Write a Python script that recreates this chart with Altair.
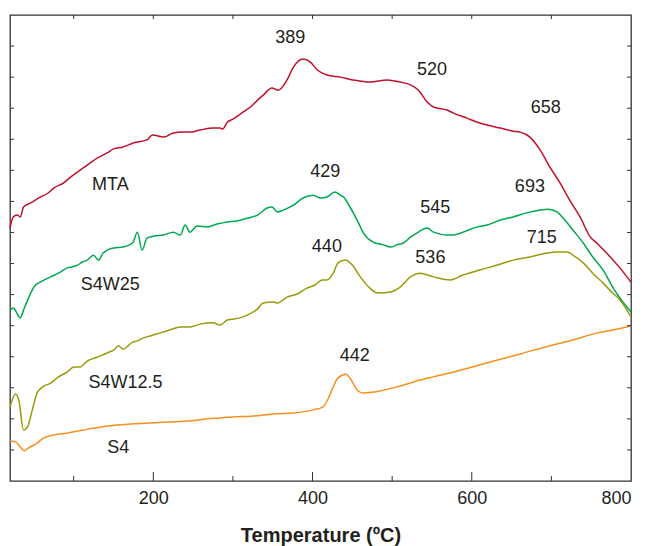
import altair as alt
import pandas as pd

# ---- data (temperature in ºC, signal in arbitrary units) ----
mta_t = [20,24,29,33,37,46,58,68,75,87,96,108,117,130,142,150,162,175,192,199,213,225,238,246,259,275,284,287,293,300,313,322,331,338,349,357,368,376,388,397,406,418,435,451,472,494,510,523,533,544,552,569,577,594,607,619,636,652,661,673,686,698,711,723,736,749,757,774,786,800]
mta_v = [8.14,8.50,8.56,8.50,8.82,8.95,9.14,9.27,9.43,9.59,9.78,10.01,10.17,10.40,10.56,10.69,10.75,10.88,10.98,11.14,11.07,11.20,11.23,11.23,11.30,11.36,11.36,11.33,11.55,11.65,11.88,12.04,12.26,12.42,12.65,12.58,12.91,13.32,13.58,13.49,13.23,13.07,13.00,12.91,12.84,12.91,12.84,12.75,12.58,12.20,12.04,11.94,11.84,11.68,11.55,11.46,11.36,11.26,11.23,11.07,10.65,10.11,9.59,9.04,8.50,7.85,7.66,7.21,6.86,6.40]

s4w25_t = [20,24,33,37,46,52,58,71,81,87,92,98,105,111,117,125,131,137,150,162,174,180,186,192,200,213,225,234,240,246,255,268,280,293,305,318,331,343,349,356,363,376,388,401,410,418,428,435,439,447,456,464,476,489,498,506,514,523,531,544,552,569,577,589,607,619,636,652,669,686,696,707,715,727,740,752,765,777,786,800]
s4w25_v = [5.50,5.57,5.25,5.50,6.05,6.31,6.40,6.57,6.69,6.79,6.86,6.89,6.95,7.05,7.11,7.27,7.11,7.34,7.50,7.53,7.66,8.01,7.43,7.82,7.88,7.92,8.01,7.92,8.24,8.01,8.21,8.18,8.27,8.34,8.37,8.46,8.56,8.79,8.82,8.66,8.72,8.88,9.11,9.20,9.11,9.14,9.30,9.20,9.14,8.82,8.40,7.98,7.69,7.60,7.53,7.60,7.66,7.85,7.98,8.14,8.01,7.92,7.92,8.01,8.18,8.24,8.40,8.50,8.63,8.72,8.75,8.66,8.46,8.08,7.66,7.21,6.79,6.24,5.89,5.44]

s4w125_t = [20,27,31,37,42,48,54,61,71,81,92,100,108,117,130,142,152,156,162,174,180,187,200,213,224,234,246,259,275,284,293,309,318,331,338,351,356,368,381,393,403,412,418,426,432,441,450,460,472,482,498,510,523,535,552,573,589,610,632,652,673,695,707,720,727,740,752,765,777,786,800]
s4w125_v = [2.38,2.80,2.61,1.64,1.74,2.29,2.83,3.03,3.15,3.35,3.51,3.67,3.67,3.86,3.99,4.12,4.25,4.35,4.25,4.47,4.51,4.60,4.70,4.80,4.89,4.96,4.96,5.05,5.09,5.02,5.18,5.25,5.34,5.54,5.73,5.76,5.73,5.92,6.02,6.21,6.31,6.47,6.47,6.69,7.02,7.11,6.95,6.57,6.21,6.05,6.08,6.24,6.57,6.69,6.57,6.47,6.63,6.79,6.95,7.11,7.21,7.34,7.37,7.37,7.27,7.02,6.69,6.37,6.05,5.83,5.28]

s4_t = [20,27,33,38,43,54,62,75,92,112,134,155,175,196,218,243,268,284,300,326,351,376,401,413,420,426,432,442,450,456,464,476,506,535,577,619,661,702,727,757,777,800]
s4_v = [1.29,1.26,1.09,0.97,1.06,1.22,1.38,1.48,1.54,1.64,1.74,1.80,1.84,1.87,1.90,1.93,2.00,2.03,2.06,2.09,2.16,2.19,2.29,2.38,2.67,3.03,3.32,3.44,3.19,2.93,2.83,2.86,3.03,3.25,3.51,3.80,4.09,4.38,4.54,4.76,4.86,4.99]

series_names = ["MTA", "S4W25", "S4W12.5", "S4"]
series_colors = ["#C0112B", "#00A94F", "#9A9A0C", "#F7901E"]

label_text = ["389", "520", "658", "MTA", "429", "545", "693", "S4W25", "440", "536", "715", "S4W12.5", "442", "S4"]
label_t = [372, 550, 693, 146, 416, 554, 673, 146, 418, 548, 688, 165, 453, 156]
label_v = [14.26, 13.23, 12.0, 9.53, 9.95, 8.79, 9.46, 6.31, 7.53, 7.18, 7.82, 3.15, 4.02, 1.06]

x_labels = [200, 400, 600, 800]
x_major_ticks = [200, 400, 600]
x_minor_ticks = [100, 300, 500, 700]
top_ticks = [100, 200, 300, 400, 500, 600, 700]
y_ticks = list(range(1, 15))

# ---- tables ----
rows = []
for name, ts, vs in [("MTA", mta_t, mta_v), ("S4W25", s4w25_t, s4w25_v),
                     ("S4W12.5", s4w125_t, s4w125_v), ("S4", s4_t, s4_v)]:
    for t, v in zip(ts, vs):
        rows.append({"series": name, "T": t, "v": v})
df = pd.DataFrame(rows)
labels_df = pd.DataFrame({"text": label_text, "T": label_t, "v": label_v})
ymaj = pd.DataFrame({"v": y_ticks})
xmaj = pd.DataFrame({"T": x_major_ticks})
xmin = pd.DataFrame({"T": x_minor_ticks})
xtop = pd.DataFrame({"T": top_ticks})

W, H = 621, 466
xscale = alt.Scale(domain=[20, 800], nice=False, zero=False)
yscale = alt.Scale(domain=[0, 15], nice=False, zero=False)
FONT = "Liberation Sans"
TXT = "#231F20"

lines = alt.Chart(df).mark_line(strokeWidth=1.5, interpolate="monotone").encode(
    x=alt.X("T:Q", scale=xscale,
            axis=alt.Axis(title="Temperature (ºC)", values=x_labels, ticks=False,
                          domain=False, grid=False, labelFont=FONT, labelFontSize=18,
                          labelColor=TXT, labelPadding=8, titleFont=FONT,
                          titleFontSize=20, titleFontWeight="bold", titleColor=TXT,
                          titlePadding=18)),
    y=alt.Y("v:Q", scale=yscale, axis=None),
    color=alt.Color("series:N", scale=alt.Scale(domain=series_names, range=series_colors),
                    legend=None),
    detail="series:N",
)

texts = alt.Chart(labels_df).mark_text(font=FONT, fontSize=18, color=TXT,
                                        align="center", baseline="middle").encode(
    x=alt.X("T:Q", scale=xscale), y=alt.Y("v:Q", scale=yscale), text="text:N")

tick_color = "#333333"
left_ticks = alt.Chart(ymaj).mark_rule(color=tick_color, strokeWidth=1).encode(
    y=alt.Y("v:Q", scale=yscale), x=alt.value(0), x2=alt.value(4))
right_ticks = alt.Chart(ymaj).mark_rule(color=tick_color, strokeWidth=1).encode(
    y=alt.Y("v:Q", scale=yscale), x=alt.value(W - 4), x2=alt.value(W))
bottom_major = alt.Chart(xmaj).mark_rule(color=tick_color, strokeWidth=1).encode(
    x=alt.X("T:Q", scale=xscale), y=alt.value(H - 9), y2=alt.value(H))
bottom_minor = alt.Chart(xmin).mark_rule(color=tick_color, strokeWidth=1).encode(
    x=alt.X("T:Q", scale=xscale), y=alt.value(H - 5), y2=alt.value(H))
top_t = alt.Chart(xtop).mark_rule(color=tick_color, strokeWidth=1).encode(
    x=alt.X("T:Q", scale=xscale), y=alt.value(0), y2=alt.value(4))

chart = alt.layer(lines, texts, left_ticks, right_ticks, bottom_major, bottom_minor, top_t).properties(
    width=W, height=H,
    padding={"left": 10, "top": 15, "right": 18, "bottom": 65},
    autosize=alt.AutoSizeParams(type="none"),
    background="white",
).configure_view(stroke="#333333", strokeWidth=1.3)

chart.save("out.html", embed_options={"renderer": "svg", "actions": False})
